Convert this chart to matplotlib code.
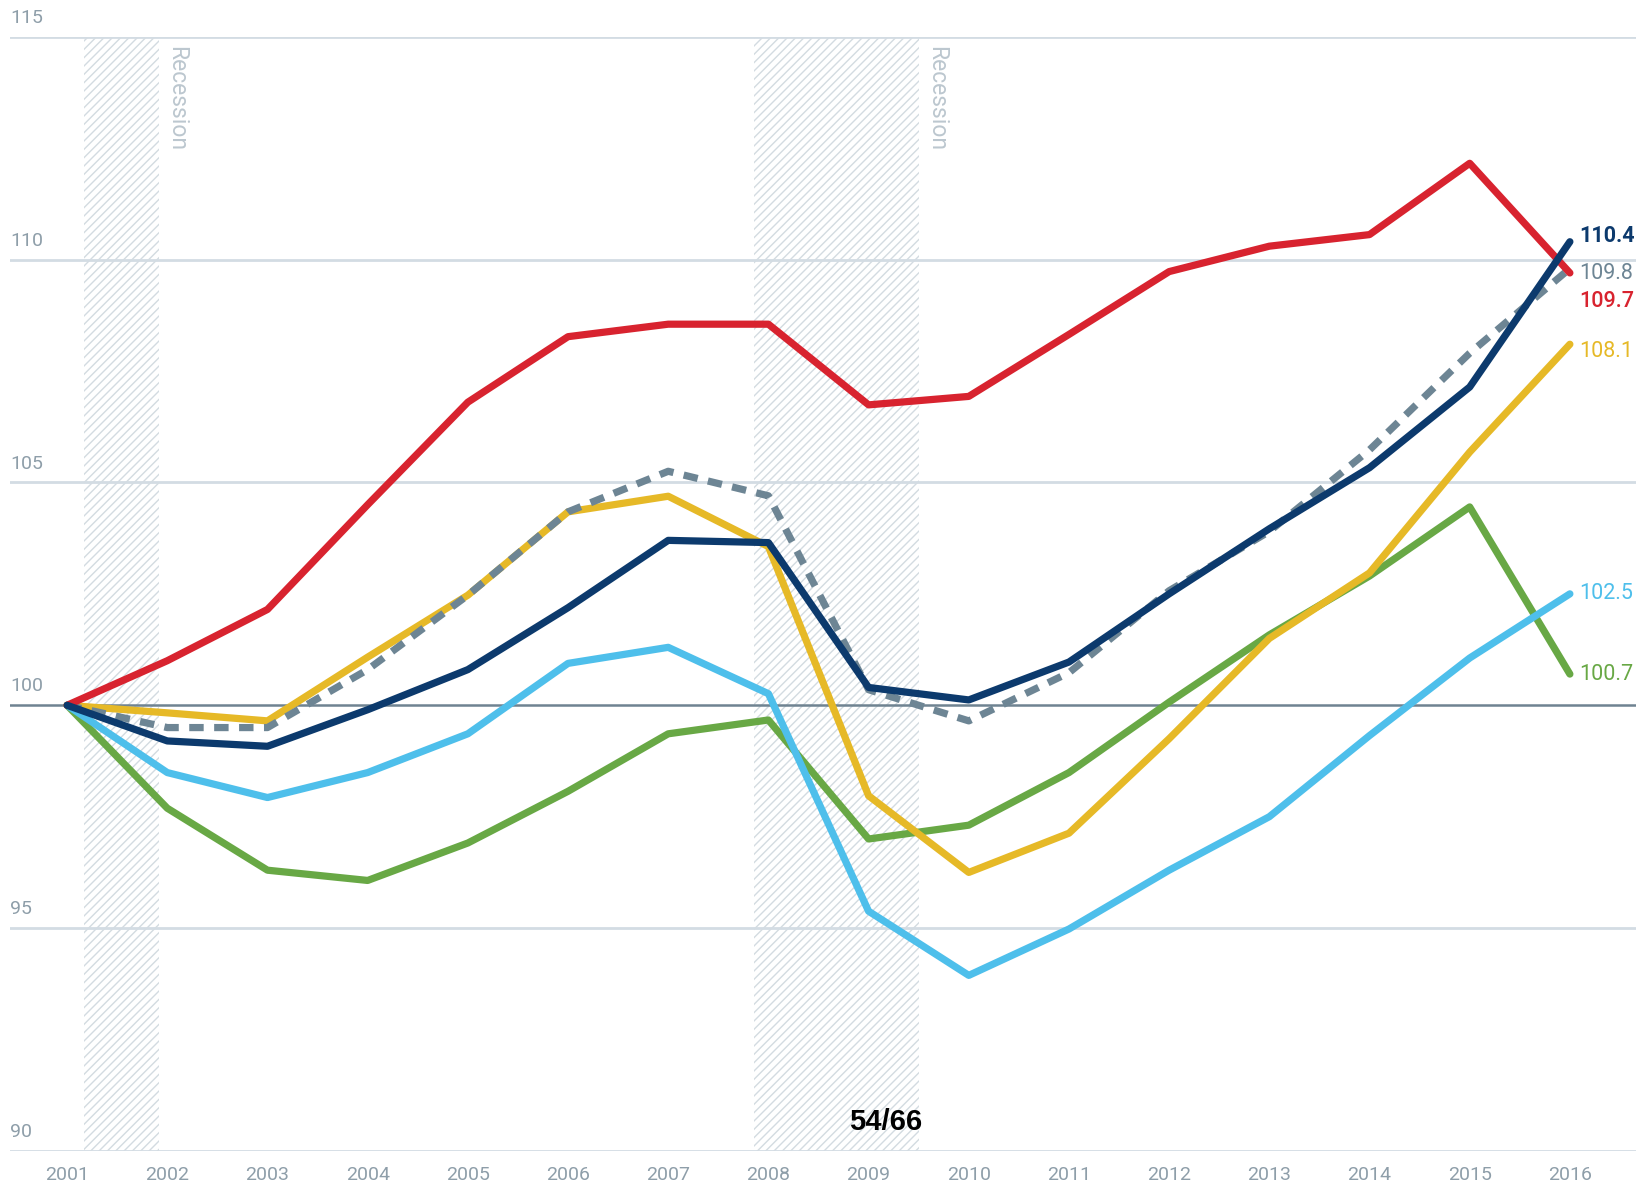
import matplotlib
matplotlib.use("Agg")
import matplotlib.pyplot as plt
from matplotlib.transforms import blended_transform_factory

years = list(range(2001, 2017))

red = [100, 101.0, 102.15, 104.5, 106.8, 108.27, 108.55, 108.55, 106.74, 106.93,
       108.32, 109.73, 110.3, 110.56, 112.16, 109.7]
navy = [100, 99.2, 99.08, 99.9, 100.8, 102.19, 103.7, 103.65, 100.4, 100.12,
        100.97, 102.5, 103.96, 105.33, 107.14, 110.4]
gray = [100, 99.5, 99.5, 100.8, 102.47, 104.34, 105.25, 104.7, 100.35, 99.65,
        100.73, 102.57, 103.9, 105.73, 107.9, 109.8]
yellow = [100, 99.83, 99.65, 101.08, 102.47, 104.34, 104.69, 103.56, 97.97, 96.25,
          97.13, 99.25, 101.5, 102.97, 105.68, 108.1]
lightblue = [100, 98.49, 97.93, 98.49, 99.36, 100.94, 101.3, 100.26, 95.38, 93.94,
             94.98, 96.3, 97.5, 99.32, 101.06, 102.5]
green = [100, 97.69, 96.3, 96.07, 96.91, 98.07, 99.36, 99.67, 97.0, 97.31,
         98.49, 100.07, 101.58, 102.9, 104.45, 100.7]

y_ticks = [90, 95, 100, 105, 110, 115]
recessions = [(2001.17, 2001.92), (2007.86, 2009.5)]
end_labels = ["110.4", "109.8", "109.7", "108.1", "102.5", "100.7"]

C_RED = "#d8232f"
C_NAVY = "#0c3a6d"
C_GRAY = "#6d8594"
C_YEL = "#e6b927"
C_LBLUE = "#4ebfeb"
C_GREEN = "#68a845"
C_GRID = "#d3dce3"
C_TXT = "#8e9ea9"

plt.rcParams['font.family'] = ['Roboto', 'DejaVu Sans']

fig = plt.figure(figsize=(16.45, 11.87), dpi=100)
W, H = 1645, 1187
left, right = 10 / W, 1636 / W
bottom, top = 1 - 1151 / H, 1 - 36.7 / H
ax = fig.add_axes([left, bottom, right - left, top - bottom])

ax.set_xlim(2000.43, 2016.66)
ax.set_ylim(90, 115)
for s in ax.spines.values():
    s.set_visible(False)
ax.set_xticks([])
ax.set_yticks([])

# gridlines
for t in y_ticks:
    if t == 100:
        ax.axhline(t, color="#6f8391", lw=1.8, zorder=1)
    else:
        ax.axhline(t, color=C_GRID, lw=2.0, zorder=1)

trans = blended_transform_factory(ax.transAxes, ax.transData)
for t in y_ticks:
    ax.text(0.0, t + 0.22, str(t), transform=trans, ha="left", va="bottom",
            fontsize=14, color=C_TXT)

# recession bands
plt.rcParams['hatch.linewidth'] = 1.0
for (a, b) in recessions:
    ax.axvspan(a, b, ymin=0, ymax=1, facecolor="none", edgecolor="#d3dbe1",
               hatch="////", lw=0, zorder=0)
    ax.text(b + 0.06, 114.8, "Recession", rotation=270, ha="left", va="top",
            fontsize=16.5, color="#bcc7cf", zorder=0)

lw = 5.2
kw = dict(lw=lw, solid_joinstyle="round", solid_capstyle="round")
ax.plot(years, green, color=C_GREEN, zorder=3, **kw)
ax.plot(years, lightblue, color=C_LBLUE, zorder=3, **kw)
ax.plot(years, yellow, color=C_YEL, zorder=3, **kw)
ax.plot(years, gray, color=C_GRAY, lw=lw, dashes=(2.0, 1.45), dash_capstyle="butt",
        zorder=4)
ax.plot(years, red, color=C_RED, zorder=5, **kw)
ax.plot(years, navy, color=C_NAVY, zorder=6, **kw)

# end labels
label_y = [110.53, 109.68, 109.05, 107.94, 102.5, 100.7]
label_c = [C_NAVY, C_GRAY, C_RED, C_YEL, C_LBLUE, C_GREEN]
label_w = ["bold", "normal", "medium", "normal", "normal", "normal"]
for txt, yv, c, w in zip(end_labels, label_y, label_c, label_w):
    ax.text(2016.09, yv, txt, color=c, fontsize=15.5, fontweight=w,
            ha="left", va="center", zorder=7)

# x labels
xtrans = blended_transform_factory(ax.transData, ax.transAxes)
for yr in years:
    ax.text(yr, -0.0215, str(yr), transform=xtrans,
            ha="center", va="center", fontsize=14, color=C_TXT)

fig.text(886 / W, 1 - 1122 / H, "54/66", ha="center", va="center", fontsize=21,
         fontweight="bold", color="black", family=["Liberation Sans", "DejaVu Sans"])

fig.savefig("out.png", dpi=100, facecolor="white")
